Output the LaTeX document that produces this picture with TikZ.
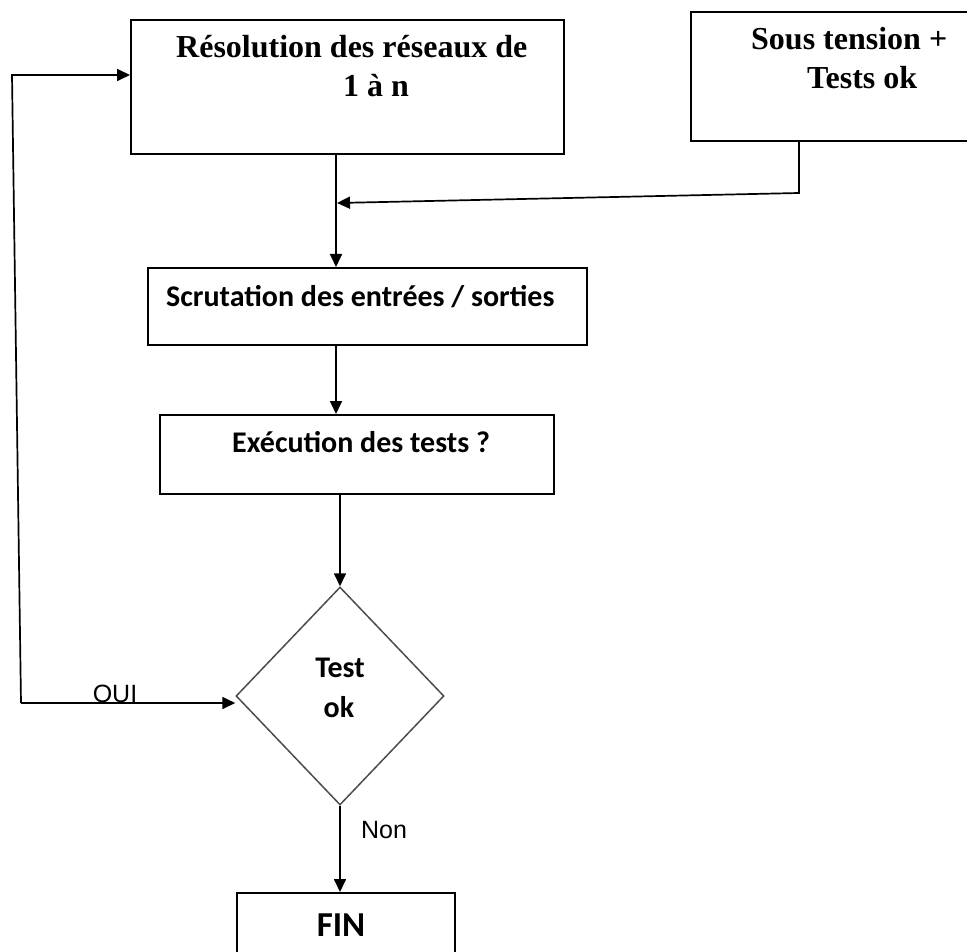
\documentclass[tikz,border=0pt]{standalone}
\usepackage{fontspec}
\setmainfont{Liberation Serif}
\newfontfamily\calibri{Carlito}
\newfontfamily\arial{Liberation Sans}
\usetikzlibrary{shapes.geometric,arrows.meta}

\tikzset{
  box/.style={draw=black, line width=2pt, rectangle, inner sep=0pt, anchor=north west},
  decision/.style={draw=black!70, line width=1.5pt, diamond, inner sep=0pt},
  txt/.style={inner sep=0pt, anchor=base west},
  ctxt/.style={inner sep=0pt, anchor=base},
  arr/.style={-{Triangle[length=13pt,width=12pt]}, line width=1.7pt},
  serifbig/.style={font=\fontsize{32}{38}\selectfont\bfseries},
  sansbold/.style={font=\calibri\fontsize{30}{36}\selectfont\bfseries},
  sanslabel/.style={font=\arial\fontsize{25}{30}\selectfont},
}

\begin{document}
\begin{tikzpicture}[x=1pt, y=-1pt]
  \useasboundingbox (0,0) rectangle (967,952);

  % boxes
  \node[box, minimum width=433pt, minimum height=134pt] (res) at (130,19) {};
  \node[box, minimum width=290pt, minimum height=129pt] (pwr) at (690,11) {};
  \node[box, minimum width=439pt, minimum height=77pt] (scan) at (147,267) {};
  \node[box, minimum width=394pt, minimum height=79pt] (exec) at (159,414) {};
  \node[decision, minimum width=208pt, minimum height=218pt] (test) at (340,696) {};
  \node[box, minimum width=218pt, minimum height=80pt] (fin) at (236,892) {};

  % texts
  \node[txt, serifbig] (resA) at (176,58) {Résolution des réseaux de};
  \node[txt, serifbig] (resB) at (343,97) {1 à n};
  \node[txt, serifbig] (pwrA) at (751,50) {Sous tension +};
  \node[txt, serifbig] (pwrB) at (807,89) {Tests ok};
  \node[txt, sansbold] (scanT) at (166,306) {Scrutation des entrées / sorties};
  \node[txt, sansbold] (execT) at (232,452) {Exécution des tests ?};
  \node[ctxt, sansbold] (testA) at (340,677) {Test};
  \node[ctxt, sansbold] (testB) at (339,717) {ok};
  \node[ctxt, font=\calibri\fontsize{35}{40}\selectfont\bfseries] (finT) at (341,936) {FIN};
  \node[ctxt, sanslabel] (oui) at (115,702) {OUI};
  \node[ctxt, sanslabel] (non) at (384,838) {Non};

  % helper points for the wiring
  \coordinate (spine) at (336,0);
  \coordinate (tap) at (799,193);
  \coordinate (join) at (337,203);
  \coordinate (loopbot) at (21,703);
  \coordinate (looptop) at (12,75);

  % main flow
  \draw[arr] (res.south -| spine) -- (scan.north -| spine);
  \draw[arr] (pwr.south -| tap) -- (tap) -- (join);
  \draw[arr] (scan.south -| spine) -- (exec.north -| spine);
  \draw[arr] (exec.south -| test.north) -- (test.north);
  \draw[arr] (test.south) -- (fin.north -| test.south);

  % loop back on OUI
  \draw[arr] (loopbot) -- (loopbot -| test.west);
  \draw[arr] (loopbot) -- (looptop) -- (looptop -| res.west);
\end{tikzpicture}
\end{document}
